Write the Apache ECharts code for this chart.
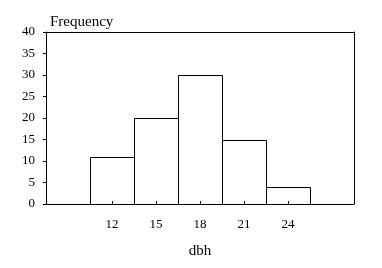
<!DOCTYPE html>
<html><head><meta charset="utf-8">
<script src="https://cdn.jsdelivr.net/npm/echarts@6/dist/echarts.min.js"></script>
<style>html,body{margin:0;padding:0;background:#fff}#c{width:382px;height:268px}</style>
</head><body><div id="c"></div>
<script>
const categories = ['', '12', '15', '18', '21', '24', ''];
const frequency = [null, 11, 20, 30, 15, 4, null];
const yTicks = { min: 0, max: 40, interval: 5 };

const font = 'Liberation Serif';
const chart = echarts.init(document.getElementById('c'));
const crisp = v => Math.round(v) + 0.5;
const barData = frequency.map((v, i) => [i, v]).filter(d => d[1] != null);
const frameAxis = { show: true, axisLine: { show: true, onZero: false, lineStyle: { color: '#000', width: 1 } }, axisTick: { show: false }, axisLabel: { show: false }, splitLine: { show: false } };
chart.setOption({
  animation: false,
  backgroundColor: '#fff',
  title: { text: 'Frequency', left: 45, top: 10, textStyle: { fontFamily: font, fontSize: 15, fontWeight: 'normal', color: '#000' } },
  grid: { left: 46, right: 28, top: 32, bottom: 64, show: false },
  xAxis: [{
    type: 'category', data: categories, zlevel: 1,
    name: 'dbh', nameLocation: 'middle', nameGap: 40,
    nameTextStyle: { fontFamily: font, fontSize: 15, color: '#000' },
    axisLine: { onZero: false, lineStyle: { color: '#000', width: 1 } },
    axisTick: { show: true, inside: true, length: 3, alignWithLabel: true, interval: (i, v) => v !== '', lineStyle: { color: '#000', width: 1 } },
    axisLabel: { fontFamily: font, fontSize: 13, color: '#000', margin: 14, interval: 0 },
    splitLine: { show: false }
  }, Object.assign({ type: 'category', data: categories, position: 'top' }, frameAxis)],
  yAxis: [{
    type: 'value', min: yTicks.min, max: yTicks.max, interval: yTicks.interval,
    axisLine: { show: true, onZero: false, lineStyle: { color: '#000', width: 1 } },
    axisTick: { show: true, length: 3, lineStyle: { color: '#000' } },
    axisLabel: { fontFamily: font, fontSize: 13, color: '#000', margin: 11 },
    splitLine: { show: false }
  }, Object.assign({ type: 'value', min: yTicks.min, max: yTicks.max, interval: yTicks.interval, position: 'right' }, frameAxis)],
  series: [{
    type: 'custom',
    data: barData,
    encode: { x: 0, y: 1 },
    renderItem: (params, api) => {
      const i = api.value(0);
      const v = api.value(1);
      const top = api.coord([i, v]);
      const base = api.coord([i, 0]);
      const w = api.size([1, 0])[0];
      const x1 = crisp(top[0] - w / 2), x2 = crisp(top[0] + w / 2);
      const y1 = crisp(top[1]), y2 = crisp(base[1]);
      return {
        type: 'rect',
        shape: { x: x1, y: y1, width: x2 - x1, height: y2 - y1 },
        style: { fill: '#fff', stroke: '#000', lineWidth: 1 }
      };
    }
  }]
});
</script></body></html>
